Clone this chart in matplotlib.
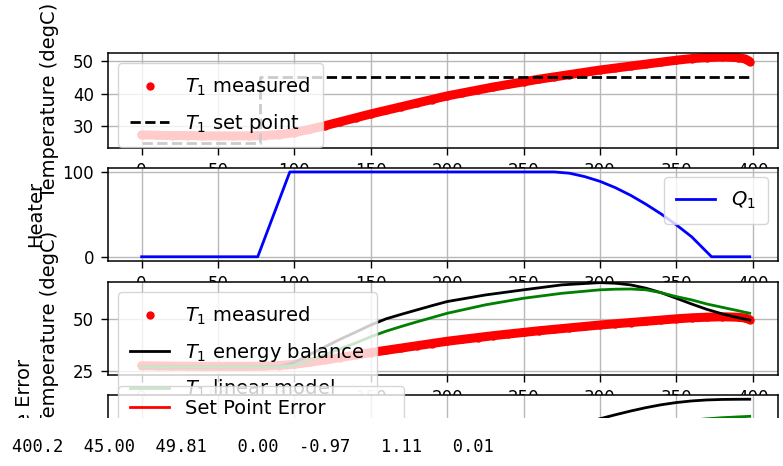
import matplotlib
matplotlib.use('Agg')
import matplotlib.pyplot as plt
from matplotlib.ticker import MaxNLocator, MultipleLocator
from matplotlib.patches import Rectangle

# ---------------- data ----------------
t_meas = [0, 10, 20, 30, 40, 50, 60, 70, 80, 90, 100, 110, 120, 130, 140, 150,
          160, 170, 180, 190, 200, 210, 220, 230, 240, 250, 260, 270, 280, 290,
          300, 310, 320, 330, 340, 350, 360, 370, 380, 390, 395, 398]
T1_meas = [27.4, 27.3, 27.2, 27.2, 27.1, 27.1, 27.1, 27.1, 27.2, 27.5, 28.1, 29.1,
           30.2, 31.4, 32.6, 33.8, 34.9, 36.0, 37.1, 38.2, 39.3, 40.2, 41.1, 42.0,
           42.8, 43.6, 44.4, 45.1, 45.8, 46.5, 47.2, 47.8, 48.4, 49.0, 49.6, 50.2,
           50.7, 51.0, 51.2, 51.0, 50.6, 49.8]

t_sp = [0, 77.5, 77.5, 398]
T1_sp = [25, 25, 45, 45]

t_q = [0, 76, 97, 270, 280, 290, 300, 310, 320, 330, 340, 350, 360, 373, 398]
Q1 = [0, 0, 100, 100, 98.5, 94.5, 88.9, 81.5, 72.5, 62.0, 50.5, 37.6, 23.5, 0, 0]

t_mod = [0, 50, 90, 100, 110, 120, 130, 140, 150, 160, 170, 180, 190, 200, 225,
         250, 275, 300, 310, 320, 330, 340, 350, 360, 370, 380, 390, 398]
T1_energy = [26.8, 26.8, 27.0, 29.0, 32.8, 36.6, 40.3, 43.7, 47.2, 50.2, 52.4, 54.5,
             56.6, 58.6, 61.8, 64.3, 66.7, 67.8, 67.5, 66.7, 65.1, 62.9, 60.2, 57.4,
             54.8, 52.6, 50.8, 49.6]
T1_linear = [26.8, 26.8, 26.9, 27.5, 30.0, 32.8, 35.6, 38.4, 41.5, 44.2, 46.5, 48.7,
             50.8, 52.9, 57.0, 60.2, 62.6, 64.3, 64.6, 64.7, 64.3, 62.9, 61.0, 59.4,
             57.4, 55.8, 54.2, 52.9]

err_sp = [0, 110, 386, 564, 729, 883, 1025, 1155, 1273, 1380, 1475, 1560, 1633, 1696,
          1816, 1882, 1905, 1938, 1963, 1994, 2030, 2074, 2126, 2183, 2243, 2305, 2366, 2420]
err_eb = [0, 20, 36, 40, 61, 112, 188, 288, 410, 554, 713, 882, 1061, 1250, 1744,
          2255, 2779, 3302, 3503, 3693, 3865, 4011, 4125, 4206, 4257, 4282, 4290, 4293]
err_lin = [0, 20, 36, 40, 48, 66, 100, 150, 218, 303, 402, 513, 634, 765, 1127, 1527,
           1948, 2376, 2546, 2711, 2870, 3012, 3130, 3226, 3300, 3355, 3394, 3425]

status_values = [400.2, 45.00, 49.81, 0.00, -0.97, 1.11, 0.01]

# ---------------- style ----------------
plt.rcParams.update({
    'font.family': ['DejaVu Sans'],
    'xtick.labelsize': 12,
    'ytick.labelsize': 12,
    'axes.labelsize': 14,
    'legend.fontsize': 14,
    'legend.borderpad': 0.65,
    'legend.labelspacing': 0.72,
    'axes.linewidth': 1.1,
    'xtick.major.size': 5,
    'ytick.major.size': 5,
    'xtick.major.width': 1.0,
    'ytick.major.width': 1.0,
    'xtick.major.pad': 5,
    'ytick.major.pad': 5,
    'grid.linewidth': 1.0,
    'grid.color': '#b8b8b8',
})

W, H = 783, 466
fig = plt.figure(figsize=(W / 100, H / 100), dpi=100)


def axes_px(top, bottom, left=108, right=778):
    return fig.add_axes([left / W, (H - bottom) / H, (right - left) / W, (bottom - top) / H])


XLIM = (-22, 416.5)
BAND_LW = 6.5
DOT_MS = 6.0

# --- axes 1: temperature and set point
ax1 = axes_px(53, 148)
ax1.grid(True)
ax1.plot(t_meas, T1_meas, '-', color='red', lw=BAND_LW, solid_capstyle='round',
         label='_nolegend_')
ax1.plot(t_meas, T1_meas, 'o', color='red', ms=DOT_MS, mew=0, label=r'$T_1$ measured')
ax1.plot(t_sp, T1_sp, 'k--', lw=2, label=r'$T_1$ set point')
ax1.set_xlim(*XLIM)
ax1.set_ylim(23.4, 52.4)
ax1.yaxis.set_major_locator(MaxNLocator(nbins=3))
ax1.set_ylabel('Temperature (degC)')
ax1.yaxis.set_label_coords((59 - 108) / 670, 0.5)
ax1.legend(loc=2)

# --- axes 2: heater
ax2 = axes_px(167.7, 261)
ax2.grid(True)
ax2.plot(t_q, Q1, 'b-', lw=2, label=r'$Q_1$')
ax2.set_xlim(*XLIM)
ax2.yaxis.set_major_locator(MultipleLocator(100))
ax2.set_ylabel('Heater')
ax2.yaxis.set_label_coords((45 - 108) / 670, 0.5)
ax2.legend(loc='upper right')

# --- axes 3: models
ax3 = axes_px(282, 375)
ax3.grid(True)
ax3.plot(t_meas, T1_meas, '-', color='red', lw=BAND_LW, solid_capstyle='round',
         label='_nolegend_')
ax3.plot(t_meas, T1_meas, 'o', color='red', ms=DOT_MS, mew=0, label=r'$T_1$ measured')
ax3.plot(t_mod, T1_energy, 'k-', lw=2, label=r'$T_1$ energy balance')
ax3.plot(t_mod, T1_linear, 'g-', lw=2, label=r'$T_1$ linear model')
ax3.set_xlim(*XLIM)
ax3.set_ylim(22.9, 68.1)
ax3.yaxis.set_major_locator(MaxNLocator(nbins=2))
ax3.set_ylabel('Temperature (degC)')
ax3.yaxis.set_label_coords((59 - 108) / 670, 0.5)
ax3.legend(loc=2)

# --- axes 4: cumulative errors
ax4 = axes_px(395, 488)
ax4.grid(True)
ax4.plot(t_mod, err_sp, 'r-', lw=2, label='Set Point Error')
ax4.plot(t_mod, err_eb, 'k-', lw=2, label='Energy Balance Error')
ax4.plot(t_mod, err_lin, 'g-', lw=2, label='Linear Model Error')
ax4.set_xlim(*XLIM)
ax4.yaxis.set_major_locator(MaxNLocator(nbins=2))
ax4.set_ylabel('Cumulative Error')
ax4.yaxis.set_label_coords((34 - 108) / 670, 0.5)
ax4.legend(loc='center left')

# --- the printed status line below the (cropped) figure
fig.add_artist(Rectangle((0, 0), 1, (H - 418) / H, transform=fig.transFigure,
                         facecolor='white', edgecolor='none', zorder=5))
fmt = '{:6.1f} {:6.2f} {:6.2f} {:6.2f} {:6.2f} {:6.2f} {:6.2f}'
status = fmt.format(*status_values).lstrip()
fig.text(12 / W, (H - 452) / H, status, family='DejaVu Sans Mono', fontsize=12.3,
         ha='left', va='baseline', zorder=6)

fig.savefig('out.png', dpi=100)
